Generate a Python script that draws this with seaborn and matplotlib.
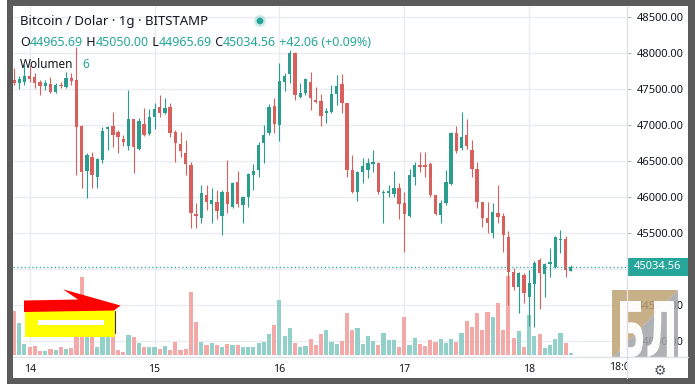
import matplotlib
matplotlib.use("Agg")
import matplotlib.pyplot as plt
import numpy as np
import pandas as pd
import seaborn as sns
from matplotlib.patches import Polygon, Rectangle, Circle, PathPatch
from matplotlib.textpath import TextPath
from matplotlib.font_manager import FontProperties
from matplotlib.transforms import Affine2D, Bbox, TransformedBbox, blended_transform_factory

# ---------------- data (hourly candles, 13th 21:00 -> 18th 08:00) ----------------
opens = [47625, 47583, 47597, 47681, 47667, 47597, 47542, 47569, 47458, 47555,
         47528, 47653, 47625, 46986, 46361, 46556, 46278, 46514, 46944, 46986,
         46903, 46806, 46708, 47083, 46667, 47014, 46875, 47111, 47250, 47167,
         47250, 46903, 46736, 46611, 46444, 45764, 45708, 46028, 45903, 45931,
         45736, 46069, 45861, 46208, 45889, 46000, 46305, 46375, 46750, 46889,
         47264, 47000, 47597, 47708, 48000, 47389, 47444, 47597, 47347, 47333,
         47167, 47181, 47431, 47569, 47306, 46375, 46069, 46347, 46375, 46458,
         46472, 46056, 46056, 46042, 46125, 45917, 45736, 46278, 46444, 46444,
         46458, 46028, 45750, 45917, 46181, 46889, 46681, 46861, 46653, 46389,
         45931, 45708, 45500, 45778, 45736, 45444, 44958, 44750, 44917, 44611,
         44792, 45125, 44931, 45069, 45028, 45403, 45417, 44965.69]
closes = [47583, 47639, 47681, 47639, 47583, 47542, 47583, 47458, 47555, 47542,
          47653, 47611, 46972, 46347, 46583, 46305, 46528, 46917, 46972, 46861,
          46833, 46764, 47083, 46694, 47056, 46861, 47111, 47222, 47167, 47236,
          46889, 46750, 46639, 46458, 45778, 45736, 46056, 45931, 45958, 45806,
          46069, 45903, 46194, 45903, 46000, 46319, 46361, 46722, 46861, 47250,
          47014, 47611, 47681, 48000, 47417, 47444, 47639, 47375, 47319, 47125,
          47194, 47431, 47542, 47306, 46375, 46069, 46347, 46431, 46472, 46486,
          46069, 46069, 46083, 46125, 45903, 45764, 46305, 46444, 46417, 46417,
          46028, 45764, 45917, 46208, 46889, 46639, 46833, 46708, 46389, 45931,
          45708, 45639, 45792, 45722, 45472, 44958, 44750, 44944, 44667, 44806,
          45083, 44944, 45069, 45097, 45444, 45417, 44986, 45034.56]
highs = [47792, 47681, 47847, 47833, 47722, 47625, 47625, 47667, 47583, 47597,
         47736, 47722, 48083, 47000, 46611, 46625, 46542, 46972, 46986, 47181,
         46931, 46861, 47486, 47083, 47097, 47236, 47222, 47306, 47417, 47375,
         47306, 46931, 46903, 46792, 46486, 45917, 46167, 46167, 46125, 46097,
         46097, 46514, 46208, 46361, 46014, 46333, 46458, 46764, 47000, 47292,
         47375, 47861, 47722, 48042, 48014, 47583, 47653, 47736, 47528, 47431,
         47236, 47555, 47694, 47708, 47306, 46583, 46361, 46542, 46542, 46653,
         46486, 46097, 46167, 46361, 46194, 46069, 46389, 46486, 46625, 46625,
         46486, 46028, 45958, 46375, 46903, 46986, 47181, 47083, 46792, 46486,
         45931, 45931, 45917, 46167, 45778, 45528, 45014, 44958, 44944, 44986,
         45111, 45153, 45083, 45292, 45458, 45542, 45458, 45050.00]
lows = [47555, 47500, 47555, 47597, 47514, 47417, 47486, 47444, 47444, 47514,
        47514, 47555, 46305, 46125, 45986, 46125, 46125, 46472, 46653, 46694,
        46611, 46708, 46653, 46333, 46653, 46847, 46861, 46944, 47111, 47153,
        46833, 46486, 46556, 46305, 45569, 45569, 45639, 45819, 45639, 45694,
        45472, 45778, 45847, 45861, 45639, 45861, 46097, 46278, 46472, 46861,
        46889, 46778, 47472, 47583, 47347, 47375, 47417, 47208, 47306, 46986,
        47028, 47167, 47278, 47167, 46278, 46056, 45944, 46194, 46264, 46347,
        46042, 45639, 46000, 46000, 45694, 45236, 45722, 46167, 46347, 46278,
        46000, 45750, 45639, 45889, 46167, 46611, 46653, 46667, 46278, 45847,
        45583, 45500, 45431, 45639, 45236, 44500, 44708, 44389, 44528, 44208,
        44194, 44444, 44611, 44889, 45014, 45222, 44889, 44965.69]
volumes = [133, 97, 33, 25, 27, 13, 13, 18, 15, 23,
           18, 20, 70, 233, 55, 65, 25, 55, 55, 55,
           15, 10, 60, 55, 35, 25, 23, 23, 18, 27,
           15, 40, 15, 17, 190, 100, 40, 30, 37, 30,
           23, 33, 30, 30, 25, 25, 25, 35, 40, 63,
           90, 165, 57, 80, 37, 25, 27, 48, 30, 63,
           75, 40, 33, 43, 127, 75, 82, 33, 57, 43,
           30, 67, 45, 45, 25, 115, 30, 52, 33, 27,
           45, 40, 48, 35, 48, 40, 67, 103, 83, 125,
           75, 130, 113, 155, 75, 237, 52, 72, 25, 120,
           58, 63, 20, 30, 47, 65, 37, 6]

day_labels = ["14", "15", "16", "17", "18"]
day_positions = [3, 27, 51, 75, 99]      # candle index of 00:00
extra_label = "18:00"
extra_position = 117
grid_prices = [44000, 44500, 45000, 45500, 46000, 46500, 47000, 47500, 48000, 48500]
label_prices = [44000, 44500, 45500, 46000, 46500, 47000, 47500, 48000, 48500]
price_range = (43778, 48653)
last_price = closes[-1]

title_text = "Bitcoin / Dolar \u00b7 1g \u00b7 BITSTAMP"
ohlc_text = [("O", "dark"), ("44965.69", "teal"), (" H", "dark"), ("45050.00", "teal"),
             (" L", "dark"), ("44965.69", "teal"), (" C", "dark"), ("45034.56", "teal"),
             (" +42.06 (+0.09%)", "teal")]
vol_label = "Wolumen"
vol_value = "6"

# ---------------- style ----------------
UP, DN = "#2a9d8f", "#d8605c"
UPV, DNV = "#93d0ca", "#f2a9a8"
TEAL = "#26a69a"
DARK = "#131722"
GRID = "#eaecf0"
SEP = "#dfe1e6"
FRAME = "#5b5b5b"

sns.set_theme(style="white")
plt.rcParams['font.family'] = ['Noto Sans', 'DejaVu Sans']

W, H = 695, 384
fig = plt.figure(figsize=(W / 100, H / 100), dpi=100)
fig.patch.set_facecolor("white")

L_, R_, T_, B_ = 13, 627, 6, 357
rect = [L_ / W, 1 - B_ / H, (R_ - L_) / W, (B_ - T_) / H]
axv = fig.add_axes(rect)
ax = fig.add_axes(rect, sharex=axv)
axv.set_zorder(1)
ax.set_zorder(2)
ax.patch.set_visible(False)
axv.set_facecolor("white")

df = pd.DataFrame(dict(idx=np.arange(len(opens)), o=opens, h=highs, l=lows, c=closes, v=volumes))
df["dir"] = np.where(df["c"] >= df["o"], "up", "down")

# grid (behind everything)
gt = blended_transform_factory(axv.transAxes, ax.transData)
for p in grid_prices:
    axv.plot([0, 1], [p, p], transform=gt, color=GRID, lw=1, zorder=0)
for d in day_positions:
    axv.axvline(d, color=GRID, lw=1, zorder=0)

# volume bars (seaborn)
sns.barplot(data=df, x="idx", y="v", hue="dir", palette={"up": UPV, "down": DNV},
            native_scale=True, width=0.8, dodge=False, errorbar=None, legend=False,
            saturation=1, linewidth=0, ax=axv, zorder=2)

# candles
cols = np.where(df["dir"] == "up", UP, DN)
ax.vlines(df["idx"], df["l"], df["h"], colors=cols, linewidth=0.8, zorder=3)
bottoms = np.minimum(df["o"], df["c"])
heights = np.maximum(np.abs(df["c"] - df["o"]), 14)
ax.bar(df["idx"], heights, bottom=bottoms, width=0.64, color=cols, linewidth=0, zorder=4)

ax.axhline(last_price, color=TEAL, lw=0.9, ls=(0, (1, 2)), zorder=5)

# limits
ax.set_xlim((L_ - 14) / 5.204, (R_ - 14) / 5.204)
ax.set_ylim(*price_range)
axv.set_ylim(-6, 1047)

for a in (ax, axv):
    for s in a.spines.values():
        s.set_visible(False)
    a.set_xlabel("")
    a.set_ylabel("")
axv.set_yticks([])
axv.tick_params(axis="x", labelbottom=False, length=0)

ax.set_yticks(label_prices, labels=[f"{p:.2f}" for p in label_prices])
ax.yaxis.tick_right()
ax.tick_params(axis="y", length=3, width=0.8, color="#b2b5be", pad=4,
               labelsize=8, labelcolor=DARK)
ax.set_xticks(day_positions, labels=day_labels)
ax.tick_params(axis="x", length=0, pad=5, labelsize=7.5, labelcolor=DARK)

# ---------------- overlay (pixel coordinates) ----------------
ov = fig.add_axes([0, 0, 1, 1])
ov.set_xlim(0, W)
ov.set_ylim(H, 0)
ov.axis("off")
ov.set_zorder(5)
ov.patch.set_visible(False)

# separators
ov.plot([R_, R_], [T_, 378], color=SEP, lw=1)
ov.plot([L_, 688], [B_, B_], color=SEP, lw=1)

# last price tag
bt = blended_transform_factory(ov.transData, ax.transData)
ov.add_patch(Rectangle((R_, last_price - 125), 62, 250, transform=bt, fc=TEAL, ec="none"))
ov.text(658, last_price, f"{last_price:.2f}", transform=bt, ha="center", va="center",
        color="white", fontsize=8, fontweight="bold")

# clipped extra time label
xt = blended_transform_factory(ax.transData, ov.transData)
t = ov.text(extra_position, 368, extra_label, transform=xt, ha="center", va="center",
            fontsize=7.5, color=DARK)
t.set_clip_box(TransformedBbox(Bbox([[0, 0], [R_ / W, 1]]), fig.transFigure))
t.set_clip_on(True)

ov.text(660, 371, "\u2699", fontsize=10, color="#50535e", ha="center", va="center",
        family="DejaVu Sans")

# header
renderer = fig.canvas.get_renderer()
ov.text(20, 21, title_text, fontsize=9.5, color=DARK, va="center", ha="left")
ov.add_patch(Circle((260, 21), 6, fc=TEAL, alpha=0.22, ec="none"))
ov.add_patch(Circle((260, 21), 3.4, fc=TEAL, ec="none"))


def seq(x, y, parts, size):
    for txt, c in parts:
        tt = ov.text(x, y, txt, fontsize=size, color=(TEAL if c == "teal" else DARK),
                     va="center", ha="left")
        x += tt.get_window_extent(renderer).width
    return x


seq(20, 42, ohlc_text, 9)
ov.text(20, 65, vol_label, fontsize=8.5, color=DARK, va="center", ha="left")
ov.text(82, 65, vol_value, fontsize=8.5, color=TEAL, va="center", ha="left")

# promo overlay (arrow + yellow box)
ov.add_patch(Rectangle((25, 309), 90, 28, fc="#ffff00", ec="none"))
ov.add_patch(Rectangle((38, 320), 66, 5, fc="white", ec="none"))
ov.plot([115, 115], [311, 333], color="#333333", lw=0.8)
ov.add_patch(Polygon([(24, 300.5), (78, 299.5), (63, 289.3), (120.5, 305.5),
                      (114, 310.5), (24, 312)], closed=True, fc="#ff0000", ec="none"))

# logo
ov.add_patch(Polygon([(612, 290), (678, 290), (612, 358)], closed=True,
                     fc="#bea273", ec="none", alpha=0.85))
ov.add_patch(Polygon([(678, 290), (678, 358), (612, 358)], closed=True,
                     fc="#a2a4a8", ec="none", alpha=0.85))
fp = FontProperties(family="DejaVu Sans", weight="bold")
tp = TextPath((0, 0), "\u0411\u041b", size=1, prop=fp)
ext = tp.get_extents()
tr = (Affine2D().translate(-ext.x0, -ext.y0).scale(54 / ext.width, -56 / ext.height)
      .translate(620, 357) + ov.transData)
ov.add_patch(PathPatch(tp, transform=tr, fc="white", ec="none", alpha=0.97))

# dark frame
for r in [(7, 0, 688, 6), (7, 0, 6, 384), (688, 0, 7, 384), (7, 378, 688, 6)]:
    ov.add_patch(Rectangle((r[0], r[1]), r[2], r[3], fc=FRAME, ec="none"))

fig.savefig("out.png", dpi=100, facecolor="white")
